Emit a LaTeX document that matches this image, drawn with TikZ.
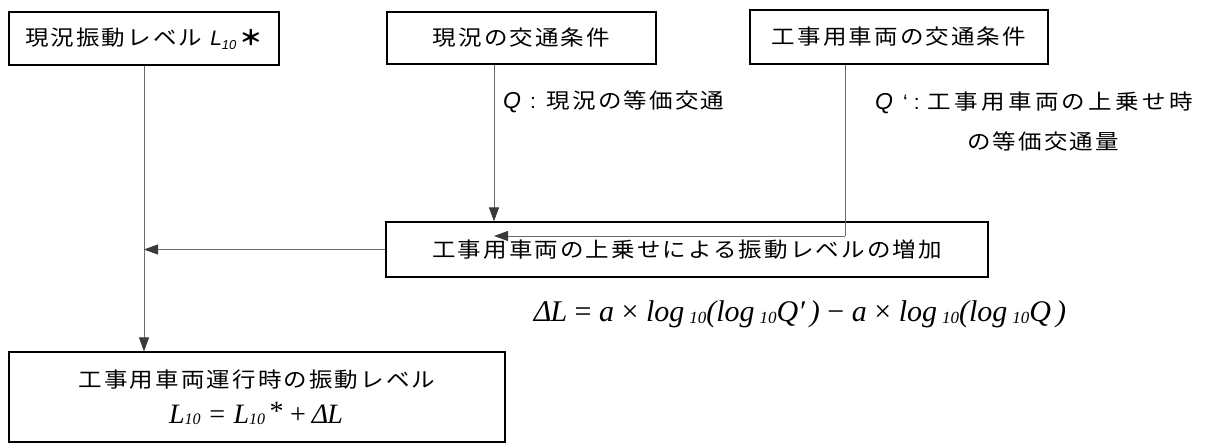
\documentclass[tikz,border=0pt]{standalone}
\usepackage{fontspec}
\setmainfont{Liberation Serif}
\newfontfamily\jp[FakeStretch=1.12]{Noto Sans CJK JP}
\newfontfamily\lsans{Liberation Sans}
\usetikzlibrary{arrows.meta}
\definecolor{lncol}{HTML}{6A6A6A}
\definecolor{tipcol}{HTML}{3A3A3A}
\newcommand{\jpt}[2]{{\jp\addfontfeatures{LetterSpace=#1}#2}}
\newcommand{\stn}{\raisebox{-1.5pt}{\fontsize{17}{17}\selectfont 10}}
\newcommand{\stb}{\raisebox{-1.5pt}{\fontsize{16}{16}\selectfont 10}}
\tikzset{
  box/.style={draw=black, line width=1.2pt, inner sep=0pt, align=center,
    font=\fontsize{21}{26}\selectfont},
  conn/.style={draw=lncol, line width=0.8pt},
  arr/.style={conn, -{Triangle[length=14pt,width=10pt,color=tipcol]}},
  lbl/.style={inner sep=0pt, font=\fontsize{21}{26}\selectfont},
  frm/.style={inner sep=0pt, font=\fontsize{30}{34}\selectfont}
}
\begin{document}
\begin{tikzpicture}[x=1pt,y=-1pt]
\useasboundingbox (0,0) rectangle (1209,443);
\node[box, minimum width=270pt, minimum height=53pt] (b1) at (144,38.5)
  {\jpt{10}{現況振動レベル}\hspace{8pt}{\lsans\itshape L\raisebox{-4pt}{\fontsize{13}{13}\selectfont 10}}\hspace{3pt}{\jp\bfseries ＊}};
\node[box, minimum width=269pt, minimum height=52pt] (b2) at (521.5,38)
  {\jpt{10}{現況の交通条件}};
\node[box, minimum width=298pt, minimum height=54pt] (b3) at (899,37)
  {\jpt{10}{工事用車両の交通条件}};
\node[box, minimum width=602pt, minimum height=55pt] (b4) at (687,249.5)
  {\jpt{10}{工事用車両の上乗せによる振動レベルの増加}};
\node[box, minimum width=496pt, minimum height=90pt] (b5) at (257,397) {};
\node[lbl] (t5a) at (257,380) {\jpt{10}{工事用車両運行時の振動レベル}};
\node[inner sep=0pt, anchor=base, font=\fontsize{28}{30}\selectfont] (t5b) at (256,423)
  {\itshape L\stb\ = L\stb\,\raisebox{3pt}{\upshape *}\,+\,Δ\kern-1pt L};
\node[lbl, anchor=west] (qa) at (503,102)
  {{\lsans\itshape\fontsize{23}{26}\selectfont Q}\hspace{9pt}{\lsans :}\hspace{11pt}\jpt{10}{現況の等価交通}};
\node[lbl, anchor=west] (qb) at (875,103)
  {{\lsans\itshape\fontsize{23}{26}\selectfont Q}\hspace{10pt}{\lsans ‘}\hspace{6pt}{\lsans :}\hspace{8pt}\jpt{16}{工事用車両の上乗せ時}};
\node[lbl] (qc) at (1043,142) {\jpt{10}{の等価交通量}};
\node[frm, anchor=base] (fm) at (800,322)
  {\itshape Δ\kern-1pt L \upshape= \itshape a \upshape× \itshape log\,\stn(log\,\stn Q′\,) \upshape− \itshape a \upshape× \itshape log\,\stn(log\,\stn Q\,)};
\coordinate (q1) at (494,236);
\coordinate (q2) at (845,236);
\draw[arr] (b1.south) -- (b1.south |- b5.north);
\draw[arr] (b2.south -| q1) -- (q1 |- b4.north);
\draw[conn] (b3.south -| q2) -- (q2);
\draw[arr] (q2) -- (q1);
\draw[arr] (b4.west) -- (b4.west -| b1.south);
\end{tikzpicture}
\end{document}
